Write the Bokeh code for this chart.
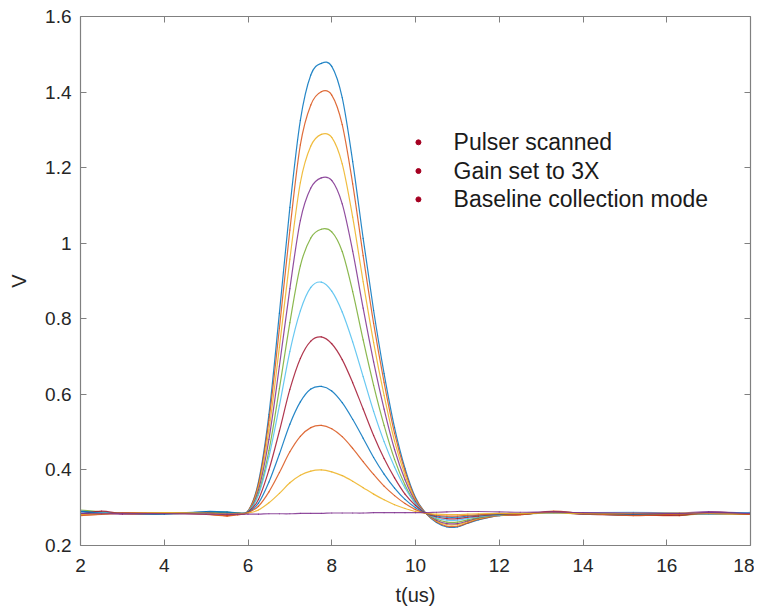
from bokeh.plotting import figure
from bokeh.models import LinearAxis, FixedTicker, CustomJSTickFormatter, Range1d
from bokeh.core.properties import value
from bokeh.embed import file_html
from bokeh.resources import INLINE

# ---------------- data ----------------
t_us = [2, 2.5, 3, 4, 5, 5.5, 5.75,
        6.0, 6.25, 6.5, 6.75, 7.0, 7.25, 7.5, 7.75, 8.0, 8.25, 8.5, 8.75, 9.0, 9.25,
        9.5, 9.75, 10.0, 10.25, 10.5, 10.75, 11.0, 11.25, 11.5,
        12, 12.5, 13.3, 14, 15.2, 16.3, 17, 18]

pulse_1 = [0.290, 0.288, 0.286, 0.284, 0.290, 0.289, 0.287,
           0.291, 0.368, 0.547, 0.815, 1.095, 1.325, 1.445, 1.476, 1.468, 1.385, 1.216, 1.013, 0.822, 0.655,
           0.512, 0.404, 0.327, 0.285, 0.261, 0.249, 0.249, 0.259, 0.268,
           0.279, 0.282, 0.289, 0.285, 0.280, 0.284, 0.283, 0.286]
pulse_2 = [0.281, 0.282, 0.285, 0.286, 0.283, 0.279, 0.282,
           0.291, 0.363, 0.531, 0.775, 1.035, 1.260, 1.366, 1.401, 1.392, 1.314, 1.157, 0.967, 0.788, 0.632,
           0.497, 0.397, 0.324, 0.285, 0.263, 0.251, 0.251, 0.260, 0.269,
           0.279, 0.281, 0.291, 0.284, 0.282, 0.279, 0.288, 0.283]
pulse_3 = [0.284, 0.286, 0.287, 0.285, 0.287, 0.283, 0.284,
           0.290, 0.355, 0.506, 0.725, 0.958, 1.160, 1.257, 1.288, 1.280, 1.210, 1.069, 0.898, 0.737, 0.597,
           0.476, 0.386, 0.320, 0.285, 0.265, 0.255, 0.255, 0.263, 0.271,
           0.280, 0.283, 0.287, 0.286, 0.284, 0.283, 0.285, 0.284]
pulse_4 = [0.289, 0.287, 0.283, 0.286, 0.288, 0.286, 0.285,
           0.289, 0.347, 0.481, 0.675, 0.880, 1.060, 1.146, 1.173, 1.166, 1.104, 0.979, 0.828, 0.686, 0.561,
           0.454, 0.374, 0.316, 0.285, 0.267, 0.258, 0.258, 0.265, 0.273,
           0.281, 0.284, 0.288, 0.283, 0.286, 0.285, 0.290, 0.285]
pulse_5 = [0.294, 0.289, 0.285, 0.284, 0.286, 0.288, 0.286,
           0.289, 0.338, 0.451, 0.615, 0.790, 0.940, 1.014, 1.037, 1.030, 0.978, 0.872, 0.744, 0.624, 0.518,
           0.428, 0.360, 0.311, 0.285, 0.270, 0.262, 0.262, 0.268, 0.274,
           0.281, 0.283, 0.286, 0.285, 0.285, 0.281, 0.284, 0.282]
pulse_6 = [0.286, 0.288, 0.286, 0.287, 0.285, 0.284, 0.285,
           0.290, 0.334, 0.435, 0.570, 0.714, 0.821, 0.883, 0.897, 0.873, 0.818, 0.739, 0.647, 0.555, 0.475,
           0.408, 0.352, 0.311, 0.285, 0.273, 0.267, 0.267, 0.272, 0.276,
           0.281, 0.284, 0.285, 0.287, 0.288, 0.286, 0.283, 0.288]
pulse_7 = [0.283, 0.291, 0.284, 0.285, 0.287, 0.281, 0.284,
           0.289, 0.322, 0.400, 0.503, 0.613, 0.695, 0.741, 0.752, 0.734, 0.692, 0.631, 0.561, 0.491, 0.430,
           0.379, 0.336, 0.306, 0.285, 0.276, 0.271, 0.271, 0.275, 0.278,
           0.282, 0.282, 0.290, 0.283, 0.281, 0.280, 0.287, 0.282]
pulse_8 = [0.291, 0.285, 0.286, 0.283, 0.289, 0.288, 0.286,
           0.288, 0.312, 0.368, 0.442, 0.521, 0.580, 0.614, 0.621, 0.609, 0.578, 0.534, 0.484, 0.433, 0.389,
           0.352, 0.322, 0.300, 0.285, 0.278, 0.275, 0.275, 0.278, 0.280,
           0.283, 0.283, 0.288, 0.284, 0.283, 0.284, 0.286, 0.285]
pulse_9 = [0.279, 0.283, 0.287, 0.286, 0.282, 0.278, 0.281,
           0.287, 0.304, 0.342, 0.393, 0.448, 0.489, 0.512, 0.518, 0.509, 0.488, 0.457, 0.422, 0.388, 0.357,
           0.332, 0.311, 0.295, 0.285, 0.280, 0.278, 0.278, 0.280, 0.281,
           0.284, 0.282, 0.289, 0.285, 0.279, 0.283, 0.284, 0.283]
pulse_10 = [0.282, 0.284, 0.285, 0.287, 0.286, 0.284, 0.285,
            0.286, 0.294, 0.313, 0.338, 0.366, 0.386, 0.397, 0.400, 0.395, 0.385, 0.370, 0.353, 0.336, 0.321,
            0.308, 0.298, 0.290, 0.285, 0.283, 0.282, 0.282, 0.283, 0.284,
            0.285, 0.285, 0.286, 0.284, 0.285, 0.286, 0.285, 0.284]
pulse_11 = [0.285, 0.284, 0.285, 0.284, 0.283, 0.283, 0.283,
            0.283, 0.283, 0.284, 0.284, 0.284, 0.285, 0.285, 0.285, 0.286, 0.286, 0.286, 0.286, 0.287, 0.287,
            0.287, 0.287, 0.287, 0.287, 0.288, 0.289, 0.290, 0.290, 0.290,
            0.289, 0.288, 0.289, 0.287, 0.286, 0.285, 0.287, 0.285]

series = [pulse_1, pulse_2, pulse_3, pulse_4, pulse_5, pulse_6,
          pulse_7, pulse_8, pulse_9, pulse_10, pulse_11]

x_ticks = [2, 4, 6, 8, 10, 12, 14, 16, 18]
y_ticks = [0.2, 0.4, 0.6, 0.8, 1.0, 1.2, 1.4, 1.6]

notes = ["Pulser scanned", "Gain set to 3X", "Baseline collection mode"]

# ---------------- styling ----------------
matlab_colors = ["#0072BD", "#D95319", "#EDB120", "#7E2F8E",
                 "#77AC30", "#4DBEEE", "#A2142F"]
AXIS_GRAY = "#808080"
TEXT_DARK = "#262626"
FONT = "Liberation Sans"

p = figure(frame_width=670, frame_height=529,
           x_range=Range1d(2, 18), y_range=Range1d(0.2, 1.6),
           output_backend="svg", toolbar_location=None,
           min_border_left=80, min_border_top=16, min_border_right=4,
           min_border_bottom=60,
           x_axis_label="t(us)", y_axis_label="V")
p.outline_line_color = None
p.xgrid.visible = False
p.ygrid.visible = False
p.background_fill_color = "white"
p.border_fill_color = "white"


def hermite_segments(xs, ys):
    """Smooth cubic (Hermite -> Bezier) drawing path through the measured points."""
    n = len(xs)
    slopes = []
    for i in range(n):
        if i == 0:
            slopes.append((ys[1] - ys[0]) / (xs[1] - xs[0]))
        elif i == n - 1:
            slopes.append((ys[-1] - ys[-2]) / (xs[-1] - xs[-2]))
        else:
            slopes.append((ys[i + 1] - ys[i - 1]) / (xs[i + 1] - xs[i - 1]))
    seg = dict(x0=[], y0=[], x1=[], y1=[], cx0=[], cy0=[], cx1=[], cy1=[])
    for i in range(n - 1):
        h = xs[i + 1] - xs[i]
        seg["x0"].append(xs[i]); seg["y0"].append(ys[i])
        seg["x1"].append(xs[i + 1]); seg["y1"].append(ys[i + 1])
        seg["cx0"].append(xs[i] + h / 3); seg["cy0"].append(ys[i] + slopes[i] * h / 3)
        seg["cx1"].append(xs[i + 1] - h / 3); seg["cy1"].append(ys[i + 1] - slopes[i + 1] * h / 3)
    return seg


for i, ys in enumerate(series):
    assert len(ys) == len(t_us)
    s = hermite_segments(t_us, ys)
    p.bezier(x0=s["x0"], y0=s["y0"], x1=s["x1"], y1=s["y1"],
             cx0=s["cx0"], cy0=s["cy0"], cx1=s["cx1"], cy1=s["cy1"],
             line_color=matlab_colors[i % 7], line_width=1.2, line_alpha=0.85,
             line_cap="round")

fmt = CustomJSTickFormatter(code="return Number(tick.toFixed(2)).toString();")


def style_axis(ax, ticks, show_labels):
    ax.ticker = FixedTicker(ticks=ticks)
    ax.formatter = fmt
    ax.axis_line_color = AXIS_GRAY
    ax.axis_line_width = 1.2
    ax.major_tick_line_color = AXIS_GRAY
    ax.major_tick_in = 6
    ax.major_tick_out = 0
    ax.minor_tick_line_color = None
    if show_labels:
        ax.major_label_text_font = FONT
        ax.major_label_text_font_size = "19px"
        ax.major_label_text_color = TEXT_DARK
        ax.axis_label_text_font = FONT
        ax.axis_label_text_font_size = "20px"
        ax.axis_label_text_font_style = "normal"
        ax.axis_label_text_color = TEXT_DARK
    else:
        ax.major_label_text_font_size = "1px"
        ax.major_label_text_color = None
        ax.major_label_standoff = 0


style_axis(p.xaxis[0], x_ticks, True)
style_axis(p.yaxis[0], y_ticks, True)
p.xaxis[0].major_label_standoff = 13
p.xaxis[0].axis_label_standoff = 9
p.yaxis[0].major_label_standoff = 9
p.yaxis[0].axis_label_standoff = 12

top_ax = LinearAxis()
style_axis(top_ax, x_ticks, False)
p.add_layout(top_ax, "above")
right_ax = LinearAxis()
style_axis(right_ax, y_ticks, False)
p.add_layout(right_ax, "right")

# annotation bullets
note_x_dot = 10.07
note_x_text = 10.91
note_y = [1.267, 1.191, 1.116]
p.scatter([note_x_dot] * 3, note_y, size=5, color="#A50021")
p.text([note_x_text] * 3, note_y, text=notes, text_font=value(FONT),
       text_font_size="23px", text_color="#1a1a1a",
       text_baseline="middle", text_align="left")

open("out.html", "w").write(file_html(p, INLINE))
